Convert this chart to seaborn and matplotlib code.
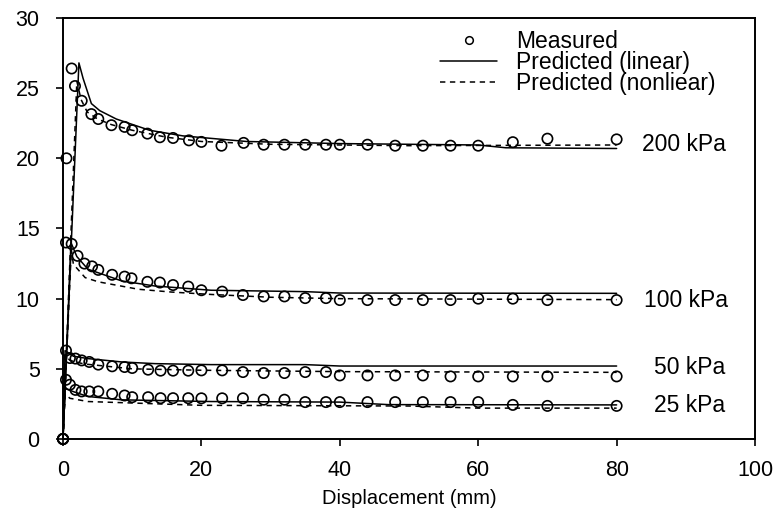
import matplotlib
matplotlib.use("Agg")
import matplotlib.pyplot as plt
import seaborn as sns
from matplotlib.lines import Line2D

# ---- measured data ----
meas200_x = [0, 0.5, 1.25, 1.73, 2.7, 4.1, 5.1, 7.0, 8.9, 10, 12.2, 14, 15.9, 18.2, 20,
             22.9, 26.1, 29, 32, 35, 38, 40, 44, 48, 52, 56, 60, 65, 70, 80]
meas200_y = [0, 20.0, 26.4, 25.15, 24.1, 23.15, 22.8, 22.36, 22.24, 22.0, 21.76, 21.5, 21.45, 21.28, 21.17,
             20.9, 21.1, 20.97, 20.97, 20.97, 20.97, 20.97, 20.97, 20.9, 20.9, 20.9, 20.9, 21.15, 21.4, 21.35]
meas100_x = [0, 0.43, 1.25, 2.1, 3.1, 4.2, 5.1, 7.1, 8.9, 9.9, 12.2, 14, 15.9, 18.1, 20,
             23, 26, 29, 32, 35, 38, 40, 44, 48, 52, 56, 60, 65, 70, 80]
meas100_y = [0, 14.0, 13.9, 13.05, 12.5, 12.3, 12.05, 11.7, 11.57, 11.45, 11.2, 11.15, 10.97, 10.86, 10.6,
             10.5, 10.26, 10.16, 10.16, 10.04, 10.04, 9.9, 9.9, 9.9, 9.9, 9.9, 10.0, 10.0, 9.9, 9.9]
meas_x = [0, 0.43, 1.0, 1.8, 2.7, 3.8, 5.1, 7.1, 8.9, 10, 12.3, 14.1, 15.9, 18.1, 20,
          23, 26, 29, 32, 35, 38, 40, 44, 48, 52, 56, 60, 65, 70, 80]
meas50_y = [0, 6.3, 5.77, 5.73, 5.6, 5.49, 5.3, 5.18, 5.13, 5.06, 4.94, 4.87, 4.87, 4.87, 4.89,
            4.89, 4.77, 4.7, 4.7, 4.77, 4.77, 4.53, 4.53, 4.53, 4.53, 4.46, 4.46, 4.46, 4.46, 4.46]
meas25_y = [0, 4.22, 3.87, 3.5, 3.39, 3.39, 3.39, 3.22, 3.1, 2.98, 2.98, 2.91, 2.91, 2.91, 2.9,
            2.9, 2.9, 2.8, 2.8, 2.63, 2.63, 2.63, 2.63, 2.63, 2.63, 2.63, 2.63, 2.43, 2.36, 2.36]

# ---- predicted (linear) ----
lin200_x = [0, 2.3, 2.9, 4.1, 5.3, 7.7, 12.5, 17.3, 26.5, 40, 60, 64, 80]
lin200_y = [0, 26.8, 25.7, 23.9, 23.4, 22.8, 22.0, 21.6, 21.2, 21.05, 20.95, 20.75, 20.7]
lin100_x = [0, 1.15, 2.0, 3.6, 8.5, 13.3, 21.4, 35, 40, 80]
lin100_y = [0, 14.0, 13.0, 12.1, 11.26, 10.9, 10.6, 10.5, 10.4, 10.38]
lin50_x = [0, 0.3, 1.5, 3.6, 8.5, 13.3, 21.4, 35, 40, 80]
lin50_y = [0, 6.3, 5.9, 5.73, 5.49, 5.37, 5.3, 5.3, 5.2, 5.2]
lin25_x = [0, 0.3, 1.7, 3.6, 8.5, 21.4, 40, 47, 80]
lin25_y = [0, 3.6, 3.34, 3.03, 2.79, 2.67, 2.63, 2.45, 2.43]

# ---- predicted (nonlinear) ----
non200_x = [0, 2.0, 2.6, 3.5, 5, 7, 10, 15, 20, 30, 50, 80]
non200_y = [0, 25.5, 24.2, 23.3, 22.8, 22.4, 22.0, 21.5, 21.2, 21.0, 20.9, 20.95]
non100_x = [0, 1.2, 1.5, 3.2, 5.1, 10.9, 15.7, 21.4, 30, 40, 80]
non100_y = [0, 13.5, 12.45, 11.5, 11.2, 10.67, 10.47, 10.3, 10.1, 10.0, 9.93]
non50_x = [0, 0.3, 1, 3, 10, 20, 40, 80]
non50_y = [0, 6.0, 5.6, 5.35, 5.0, 4.9, 4.8, 4.75]
non25_x = [0, 0.3, 1, 3.6, 10.9, 20, 50, 60, 80]
non25_y = [0, 3.2, 2.9, 2.67, 2.55, 2.4, 2.35, 2.2, 2.2]

labels = ["200 kPa", "100 kPa", "50 kPa", "25 kPa"]
label_x = [83.6, 83.9, 85.4, 85.4]
label_y = [21.0, 9.85, 5.1, 2.36]

legend_labels = ["Measured", "Predicted (linear)", "Predicted (nonliear)"]

sns.set_theme(style="ticks")
plt.rcParams['font.family'] = ['Liberation Sans', 'DejaVu Sans']

fig = plt.figure(figsize=(7.74, 5.18), dpi=100)
ax = fig.add_axes([0.0814, 0.1525, 0.8941, 0.8128])

measured = [(meas200_x, meas200_y), (meas100_x, meas100_y), (meas_x, meas50_y), (meas_x, meas25_y)]
linear = [(lin200_x, lin200_y), (lin100_x, lin100_y), (lin50_x, lin50_y), (lin25_x, lin25_y)]
nonlin = [(non200_x, non200_y), (non100_x, non100_y), (non50_x, non50_y), (non25_x, non25_y)]
dash = (0, (3.5, 3))

for (lx, ly) in linear:
    sns.lineplot(x=lx, y=ly, ax=ax, color="black", lw=1.1, sort=False, estimator=None)
for (nx, ny) in nonlin:
    sns.lineplot(x=nx, y=ny, ax=ax, color="black", lw=1.1, sort=False, estimator=None,
                 linestyle=dash)
for (mx, my) in measured:
    sns.scatterplot(x=mx, y=my, ax=ax, marker="o", s=55, facecolor="none",
                    edgecolor="black", linewidth=1.2, zorder=3)
for coll in ax.collections:
    coll.set_clip_on(False)

for t, x, y in zip(labels, label_x, label_y):
    ax.text(x, y, t, fontsize=16.5, ha="left", va="center", color="black")

ax.set_xlim(0, 100)
ax.set_ylim(0, 30)
ax.set_xticks([0, 20, 40, 60, 80, 100])
ax.set_yticks([0, 5, 10, 15, 20, 25, 30])
ax.set_xlabel("Displacement (mm)", fontsize=14.5, color="black", labelpad=6)
ax.set_ylabel("")
ax.tick_params(direction="out", length=4.8, width=1.2, labelsize=15.5, colors="black", pad=12)
ax.tick_params(axis="x", pad=10)
for sp in ax.spines.values():
    sp.set_visible(True)
    sp.set_linewidth(1.4)
    sp.set_color("black")

handles = [
    Line2D([], [], marker="o", linestyle="none", markerfacecolor="none",
           markeredgecolor="black", markersize=5.5, markeredgewidth=1.1),
    Line2D([], [], color="black", lw=1.1),
    Line2D([], [], color="black", lw=1.1, linestyle=dash),
]
leg = ax.legend(handles, legend_labels,
                loc="upper left", bbox_to_anchor=(0.545, 0.971), frameon=False,
                fontsize=16.5, handlelength=2.5, handletextpad=0.8, labelspacing=-0.09,
                borderaxespad=0.0, borderpad=0.0)
for txt in leg.get_texts():
    txt.set_color("black")

fig.savefig("out.png", dpi=100)
